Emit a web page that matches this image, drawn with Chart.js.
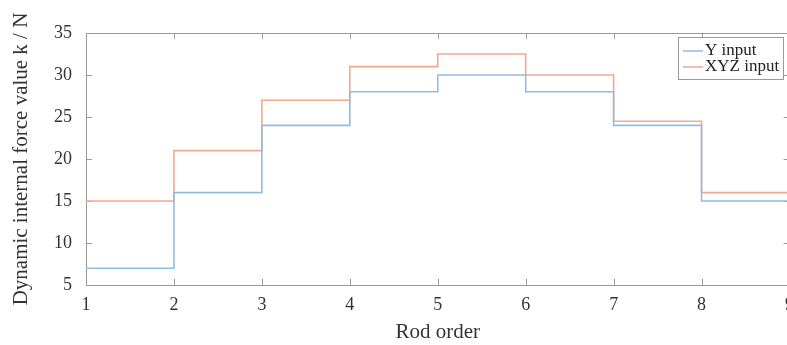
<!DOCTYPE html>
<html>
<head>
<meta charset="utf-8">
<script src="https://cdn.jsdelivr.net/npm/chart.js@4/dist/chart.umd.min.js"></script>
<style>
  html, body { margin: 0; padding: 0; background: #fff; overflow: hidden; }
  #wrap { position: relative; width: 795px; height: 345px; }
</style>
</head>
<body>
<div id="wrap"><canvas id="stepChart"></canvas></div>
<script>
// rod order 1..9, last value repeated so the final step reaches x = 9
const rodOrder = [1, 2, 3, 4, 5, 6, 7, 8, 9];
const yInput = [7, 16, 24, 28, 30, 28, 24, 15, 15];
const xyzInput = [15, 21, 27, 31, 32.5, 30, 24.5, 16, 16];
const yTicks = [5, 10, 15, 20, 25, 30, 35];

const serif = "'Liberation Serif', 'DejaVu Serif', serif";

const toPoints = (vals) => rodOrder.map((x, i) => ({ x: x, y: vals[i] }));

// box round the plot, inward tick marks, legend inside top right
const frame = {
  id: "frame",
  beforeDatasetsDraw(chart) {
    const { ctx, chartArea: a, scales } = chart;
    ctx.save();
    ctx.strokeStyle = "#9a9a9a";
    ctx.lineWidth = 1;
    ctx.strokeRect(a.left + 0.5, a.top + 0.5, a.right - a.left, a.bottom - a.top);
    ctx.beginPath();
    scales.x.ticks.forEach((t) => {
      const px = Math.round(scales.x.getPixelForValue(t.value)) + 0.5;
      ctx.moveTo(px, a.bottom);
      ctx.lineTo(px, a.bottom - 6);
      ctx.moveTo(px, a.top);
      ctx.lineTo(px, a.top + 6);
    });
    scales.y.ticks.forEach((t) => {
      const py = Math.round(scales.y.getPixelForValue(t.value)) + 0.5;
      ctx.moveTo(a.left, py);
      ctx.lineTo(a.left + 6, py);
      ctx.moveTo(a.right, py);
      ctx.lineTo(a.right - 6, py);
    });
    ctx.stroke();
    ctx.restore();
  },
  afterDatasetsDraw(chart) {
    const { ctx } = chart;
    const x0 = 678, y0 = 37, w = 105, h = 42;
    ctx.save();
    ctx.fillStyle = "#fff";
    ctx.fillRect(x0, y0, w, h);
    ctx.strokeStyle = "#9a9a9a";
    ctx.lineWidth = 1;
    ctx.strokeRect(x0 + 0.5, y0 + 0.5, w, h);
    ctx.font = "17px " + serif;
    ctx.textBaseline = "middle";
    chart.data.datasets.forEach((ds, i) => {
      const cy = y0 + 14 + i * 16;
      ctx.strokeStyle = ds.borderColor;
      ctx.lineWidth = 1.5;
      ctx.beginPath();
      ctx.moveTo(x0 + 5, cy);
      ctx.lineTo(x0 + 25, cy);
      ctx.stroke();
      ctx.fillStyle = "#222";
      ctx.fillText(ds.label, x0 + 27, cy);
    });
    ctx.restore();
  },
};

new Chart(document.getElementById("stepChart"), {
  type: "line",
  data: {
    datasets: [
      {
        label: "Y input",
        data: toPoints(yInput),
        borderColor: "#8fbde2",
        borderWidth: 1.6,
        stepped: true,
        pointRadius: 0,
        fill: false,
      },
      {
        label: "XYZ input",
        data: toPoints(xyzInput),
        borderColor: "#f2a88e",
        borderWidth: 1.6,
        stepped: true,
        pointRadius: 0,
        fill: false,
      },
    ],
  },
  options: {
    responsive: true,
    maintainAspectRatio: false,
    animation: false,
    layout: { padding: { top: 33, right: 0, left: 0, bottom: 0 } },
    plugins: {
      legend: { display: false },
      tooltip: { enabled: false },
    },
    scales: {
      x: {
        type: "linear",
        min: 1,
        max: 9,
        afterFit: (scale) => {
          scale.height = 60;
        },
        grid: { display: false },
        border: { display: false },
        ticks: {
          stepSize: 1,
          color: "#333",
          padding: 1,
          font: { family: serif, size: 18 },
        },
        title: {
          display: true,
          text: "Rod order",
          color: "#333",
          padding: { top: 0, bottom: 0 },
          font: { family: serif, size: 21 },
        },
      },
      y: {
        min: 5,
        max: 35,
        afterBuildTicks: (scale) => {
          scale.ticks = yTicks.map((v) => ({ value: v }));
        },
        afterFit: (scale) => {
          scale.width = 86;
        },
        grid: { display: false },
        border: { display: false },
        ticks: {
          color: "#333",
          padding: 6,
          font: { family: serif, size: 18 },
        },
        title: {
          display: true,
          text: "Dynamic internal force value k / N",
          color: "#333",
          padding: { top: 9, bottom: 0 },
          font: { family: serif, size: 21 },
        },
      },
    },
  },
  plugins: [frame],
});
</script>
</body>
</html>
